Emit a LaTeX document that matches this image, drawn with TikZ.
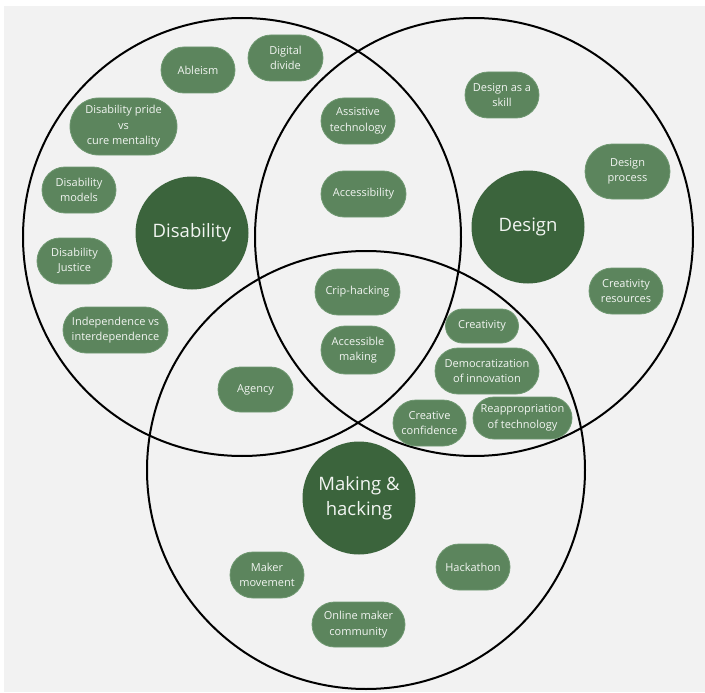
\documentclass[tikz,border=0pt]{standalone}
\usepackage{fontspec}
\setmainfont{Open Sans}
\usetikzlibrary{shapes.misc}
\definecolor{bggray}{HTML}{F2F2F2}
\definecolor{pillfill}{HTML}{5C855D}
\definecolor{pilledge}{HTML}{6F9871}
\definecolor{darkgreen}{HTML}{3B643C}
\definecolor{txtwhite}{HTML}{F2F5F2}
\tikzset{
  venn/.style={circle,draw=black,line width=2pt,minimum size=438pt,inner sep=0pt},
  hub/.style={circle,fill=darkgreen,minimum size=113pt,inner sep=0pt,text=txtwhite,align=center,font=\fontsize{18.5}{24.5}\selectfont},
  pill/.style={rounded rectangle,fill=pillfill,draw=pilledge,line width=0.8pt,minimum width=74pt,minimum height=46pt,inner sep=0pt,text=txtwhite,align=center,font=\fontsize{11}{15.5}\selectfont},
}
\begin{document}
\begin{tikzpicture}[x=1pt,y=-1pt]
\useasboundingbox (0,0) rectangle (705,693);
\fill[white] (0,0) rectangle (705,693);
\fill[bggray] (4,6) rectangle (705,692);
% Venn circles
\node[venn] (vdis) at (242,237) {};
\node[venn] (vdes) at (474,237) {};
\node[venn] (vmak) at (366,470) {};
% hubs
\node[hub] (hdis) at (192,233) {Disability};
\node[hub] (hdes) at (528,227) {Design};
\node[hub] (hmak) at (359,498) {Making \&\\hacking};
% Disability
\node[pill] (ableism) at (198,70) {Ableism};
\node[pill,minimum width=75pt] (digital) at (285.5,58) {Digital\\divide};
\node[pill,minimum width=107pt,minimum height=57pt] (pride) at (123.5,126.5) {Disability pride\\vs\\cure mentality};
\node[pill] (models) at (79,190) {Disability\\models};
\node[pill,minimum width=75pt] (justice) at (74.5,261) {Disability\\Justice};
\node[pill,minimum width=105pt] (indep) at (115.5,330) {Independence vs\\interdependence};
% Disability & Design
\node[pill] (assist) at (358,121) {Assistive\\technology};
\node[pill,minimum width=85pt] (access) at (363.5,194) {Accessibility};
% all three
\node[pill,minimum width=85pt] (crip) at (357.5,292) {Crip-hacking};
\node[pill,minimum height=48pt] (accmak) at (358,350) {Accessible\\making};
% Disability & Making
\node[pill,minimum width=75pt,minimum height=45pt] (agency) at (255.5,389.5) {Agency};
% Design
\node[pill] (skill) at (502,95) {Design as a\\skill};
\node[pill,minimum width=85pt,minimum height=55pt] (process) at (627.5,171.5) {Design\\process};
\node[pill] (resources) at (626,291) {Creativity\\resources};
% Design & Making
\node[pill,minimum width=73pt,minimum height=34pt] (creativity) at (482,326) {Creativity};
\node[pill,minimum width=104pt] (democ) at (487,371) {Democratization\\of innovation};
\node[pill,minimum width=73pt] (confid) at (429.5,423) {Creative\\confidence};
\node[pill,minimum width=99pt,minimum height=42pt] (reapp) at (522.5,418) {Reappropriation\\of technology};
% Making
\node[pill] (maker) at (267,575) {Maker\\movement};
\node[pill,minimum width=93pt,minimum height=45pt] (online) at (358.5,624.5) {Online maker\\community};
\node[pill] (hack) at (473,567) {Hackathon};
\end{tikzpicture}
\end{document}
